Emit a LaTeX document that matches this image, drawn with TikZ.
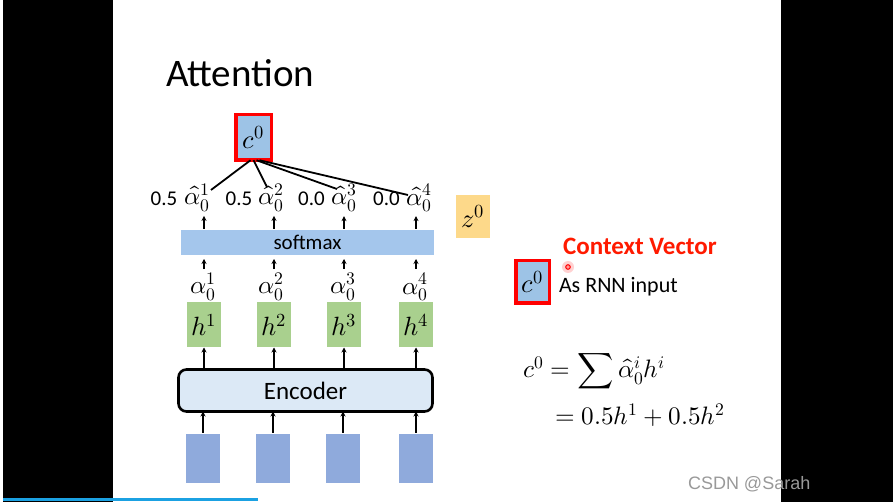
\documentclass[tikz,border=0pt]{standalone}
\usepackage{fontspec}
\usepackage{unicode-math}
\setmainfont{Carlito}
\setmathfont{Latin Modern Math}[Scale=1.2]
\newfontfamily\wmfont{Liberation Sans}
\usetikzlibrary{arrows.meta}
\definecolor{cblue}{HTML}{9DC3E6}
\definecolor{smblue}{HTML}{A4C6EC}
\definecolor{hgreen}{HTML}{A9D08E}
\definecolor{zorange}{HTML}{FDD98A}
\definecolor{inblue}{HTML}{8FAADC}
\definecolor{encfill}{HTML}{DCE9F6}
\definecolor{ctxred}{HTML}{FF1A00}
\definecolor{barblue}{HTML}{1BA1E2}
\begin{document}
\begin{tikzpicture}[x=1pt,y=-1pt,
  every node/.style={inner sep=0pt,outer sep=0pt},
  upa/.style={-{Stealth[length=5pt,width=5pt]},line width=1.6pt},
  redbox/.style={draw=red,line width=3.5pt,fill=cblue,font=\fontsize{22}{26}\selectfont},
  hbox/.style={fill=hgreen,minimum width=34,minimum height=45,font=\fontsize{22}{26}\selectfont},
  inbox/.style={fill=inblue,minimum width=34,minimum height=49},
  lbl/.style={font=\fontsize{21}{25}\selectfont},
  link/.style={line width=1.8pt}
]
\useasboundingbox (0,0) rectangle (895,502);
% black side bars
\fill[black] (3,0) rectangle (113,502);
\fill[black] (781,0) rectangle (893,502);
\fill[barblue] (3,498.5) rectangle (258,501);
% title
\node[anchor=base west,font=\fontsize{39}{44}\selectfont] (title) at (166,87) {Attention};
% c0 top
\node[redbox,minimum width=35.5,minimum height=45.5] (c0) at (253.5,137.5) {$c^0$};
% alpha hat labels
\node[lbl] (v1) at (164,199) {0.5};
\node[lbl] (ah1) at (197.5,198) {$\hat{\alpha}_0^1$};
\node[lbl] (v2) at (239,199) {0.5};
\node[lbl] (ah2) at (271.5,198) {$\hat{\alpha}_0^2$};
\node[lbl] (v3) at (311.5,199) {0.0};
\node[lbl] (ah3) at (344,198) {$\hat{\alpha}_0^3$};
\node[lbl] (v4) at (386.5,199) {0.0};
\node[lbl] (ah4) at (419.5,198) {$\hat{\alpha}_0^4$};
\coordinate (e1) at (211,190);
\coordinate (e2) at (267,187);
\coordinate (e3) at (337,189);
\coordinate (e4) at (408,195);
\draw[link] (c0.south) ++(-3,0) -- (e1);
\draw[link] (c0.south) -- (e2);
\draw[link] (c0.south) ++(3,0) -- (e3);
\draw[link] (c0.south) ++(6,0) -- (e4);
% softmax
\node[fill=smblue,minimum width=253,minimum height=25,lbl] (sm) at (307.5,242.5) {softmax};
% z0
\node[fill=zorange,minimum width=34,minimum height=43,font=\fontsize{22}{26}\selectfont] (z0) at (473,216.5) {$z^0$};
% alpha labels
\node[lbl] (a1) at (203.5,287) {$\alpha_0^1$};
\node[lbl] (a2) at (271.5,287) {$\alpha_0^2$};
\node[lbl] (a3) at (343.5,287) {$\alpha_0^3$};
\node[lbl] (a4) at (415,287) {$\alpha_0^4$};
% h boxes
\node[hbox] (h1) at (204,325) {$h^1$};
\node[hbox] (h2) at (274,325) {$h^2$};
\node[hbox] (h3) at (344,325) {$h^3$};
\node[hbox] (h4) at (416,325) {$h^4$};
% encoder
\node[draw,line width=2.6pt,rounded corners=8pt,fill=encfill,minimum width=254,minimum height=42,font=\fontsize{25}{30}\selectfont] (enc) at (305.5,390.5) {Encoder};
% inputs
\node[inbox] (x1) at (203,458.5) {};
\node[inbox] (x2) at (273,458.5) {};
\node[inbox] (x3) at (343,458.5) {};
\node[inbox] (x4) at (416,458.5) {};
% arrows
\foreach \i in {1,2,3,4} {
  \draw[upa,shorten <=1pt] (x\i.north) -- (x\i.north |- enc.south);
  \draw[upa] (enc.north -| h\i) -- (h\i.south);
  \draw[upa,shorten <=4pt,shorten >=4pt] (a\i.north -| h\i) -- (sm.south -| h\i);
  \draw[upa,shorten <=1pt,shorten >=4pt] (sm.north -| h\i) -- (ah\i.south -| h\i);
}
% right side
\node[font=\bfseries\fontsize{25}{30}\selectfont,text=ctxred] (ctx) at (640,246) {Context Vector};
\node[redbox,minimum width=33.5,minimum height=42.5] (cc) at (532.5,282) {$c^0$};
\node[font=\fontsize{22}{26}\selectfont,anchor=west] (rnn) at (559,287) {As RNN input};
\fill[red!18] (568,267) circle (6);
\draw[red,line width=1pt,fill=red!40] (568,267) circle (2.3);
% formula
\node[anchor=west,font=\fontsize{21}{25}\selectfont] (f1) at (523,371) {$c^0 = \displaystyle\sum \hat{\alpha}_0^i h^i$};
\node[anchor=west,font=\fontsize{21}{25}\selectfont] (f2) at (555,415) {$= 0.5h^1 + 0.5h^2$};
% watermark
\node[anchor=west,font=\wmfont\fontsize{18}{22}\selectfont,text=black!40] (wm) at (688,484) {CSDN @Sarah};
\end{tikzpicture}
\end{document}
